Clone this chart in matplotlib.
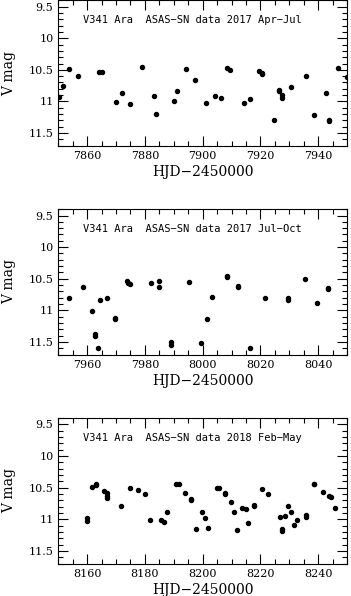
import numpy as np
import matplotlib
matplotlib.use('Agg')
from matplotlib import pyplot as plt
from matplotlib.ticker import MultipleLocator

# --- data (HJD-2450000, V mag) ---
hjd_1 = [7850.2, 7851.7, 7853.8, 7856.7, 7864.1, 7865.0, 7870.0, 7871.9, 7875.0, 7879.0,
         7883.1, 7884.0, 7890.1, 7891.2, 7894.2, 7897.2, 7901.3, 7904.2, 7906.3, 7908.3,
         7909.3, 7914.3, 7916.4, 7919.5, 7920.6, 7920.6, 7924.6, 7926.4, 7926.4, 7927.5,
         7927.5, 7930.5, 7935.7, 7938.7, 7942.6, 7943.7, 7943.7, 7946.8, 7949.9, 7950.6]
mag_1 = [10.93, 10.76, 10.48, 10.59, 10.54, 10.53, 11.01, 10.86, 11.04, 10.46,
         10.91, 11.20, 10.99, 10.83, 10.48, 10.66, 11.03, 10.92, 10.95, 10.47,
         10.50, 11.02, 10.96, 10.52, 10.55, 10.57, 11.30, 10.82, 10.84, 10.89,
         10.95, 10.77, 10.60, 11.21, 10.87, 11.29, 11.31, 10.47, 10.61, 10.71]

hjd_2 = [7953.7, 7958.7, 7961.8, 7962.7, 7962.7, 7963.6, 7964.6, 7966.8, 7969.8, 7969.8,
         7973.9, 7974.1, 7975.0, 7982.1, 7984.9, 7984.9, 7989.0, 7989.0, 7995.1, 7999.4,
         8001.5, 8003.3, 8008.3, 8008.3, 8012.3, 8012.3, 8016.3, 8021.4, 8029.4, 8029.4,
         8035.4, 8039.4, 8043.4, 8043.4]
mag_2 = [10.80, 10.63, 11.01, 11.37, 11.41, 11.60, 10.84, 10.81, 11.14, 11.12,
         10.53, 10.57, 10.58, 10.56, 10.54, 10.63, 11.50, 11.55, 10.55, 11.51,
         11.14, 10.79, 10.45, 10.47, 10.61, 10.63, 11.59, 10.80, 10.81, 10.83,
         10.51, 10.88, 10.64, 10.67]

hjd_3 = [8160.0, 8160.0, 8161.8, 8163.0, 8163.0, 8165.8, 8166.8, 8166.9, 8166.9, 8171.8,
         8174.9, 8177.7, 8179.9, 8181.8, 8185.7, 8186.7, 8187.8, 8190.8, 8191.8, 8193.8,
         8195.8, 8195.8, 8197.7, 8199.8, 8200.7, 8201.8, 8204.9, 8205.8, 8207.8, 8207.8,
         8209.7, 8210.7, 8211.8, 8213.6, 8214.9, 8215.7, 8217.7, 8217.7, 8220.6, 8222.6,
         8226.7, 8227.6, 8227.6, 8228.6, 8229.5, 8230.7, 8231.6, 8232.6, 8235.7, 8235.7,
         8238.5, 8238.5, 8241.6, 8243.6, 8244.5, 8245.7]
mag_3 = [10.98, 11.02, 10.49, 10.46, 10.44, 10.56, 10.59, 10.63, 10.67, 10.79,
         10.50, 10.53, 10.60, 11.01, 11.01, 11.04, 10.89, 10.45, 10.45, 10.58,
         10.70, 10.68, 11.15, 10.88, 10.98, 11.14, 10.50, 10.50, 10.58, 10.60,
         10.73, 10.88, 11.17, 10.82, 10.84, 11.06, 10.79, 10.78, 10.52, 10.60,
         10.97, 11.18, 11.16, 10.95, 10.79, 10.89, 11.09, 11.01, 10.93, 10.96,
         10.44, 10.45, 10.57, 10.63, 10.65, 10.82]

titles = ['V341 Ara  ASAS\u2212SN data 2017 Apr\u2212Jul',
          'V341 Ara  ASAS\u2212SN data 2017 Jul\u2212Oct',
          'V341 Ara  ASAS\u2212SN data 2018 Feb\u2212May']
xlims = [(7850, 7950), (7950, 8050), (8150, 8250)]
ylim = (11.7, 9.4)
yticks = [9.5, 10, 10.5, 11, 11.5]
yticklabels = ['9.5', '10', '10.5', '11', '11.5']

plt.rcParams['font.family'] = 'DejaVu Serif'
fig = plt.figure(figsize=(3.51, 5.96), dpi=100)

bottoms = [0.7555, 0.405, 0.0545]
panels = [(hjd_1, mag_1), (hjd_2, mag_2), (hjd_3, mag_3)]
for i, (hjd, mag) in enumerate(panels):
    ax = fig.add_axes([0.166, bottoms[i], 0.823, 0.244])
    ax.plot(hjd, mag, 'o', color='k', ms=2.9, mec='k')
    ax.set_xlim(*xlims[i])
    ax.set_ylim(*ylim)
    ax.xaxis.set_major_locator(MultipleLocator(20))
    ax.xaxis.set_minor_locator(MultipleLocator(5))
    ax.set_yticks(yticks)
    ax.set_yticklabels(yticklabels)
    ax.yaxis.set_minor_locator(MultipleLocator(0.1))
    ax.tick_params(which='both', direction='in', top=True, right=True, width=0.8, labelsize=8)
    ax.tick_params(which='major', length=7)
    ax.tick_params(which='minor', length=3.5)
    ax.tick_params(axis='x', pad=4)
    for s in ax.spines.values():
        s.set_linewidth(0.8)
    ax.set_xlabel('HJD\u22122450000', fontsize=10, labelpad=3)
    ax.set_ylabel('V mag', fontsize=10, labelpad=9)
    ax.text(0.084, 0.865, titles[i], transform=ax.transAxes, ha='left', va='center',
            fontsize=7.5, family='DejaVu Sans Mono')

plt.savefig('out.png', dpi=100)
